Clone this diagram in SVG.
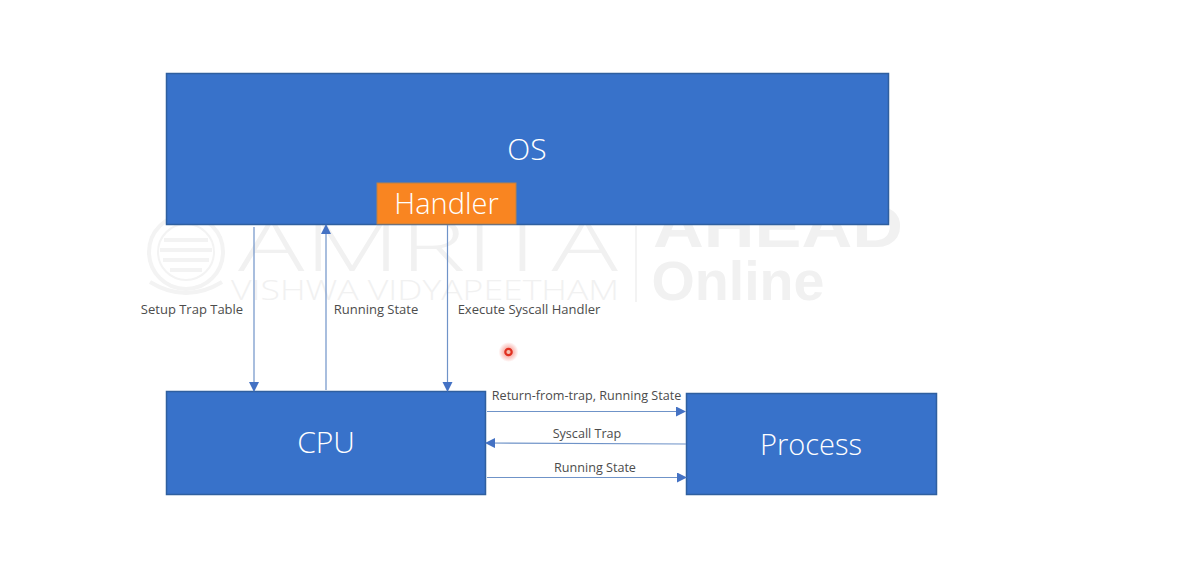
<svg xmlns="http://www.w3.org/2000/svg" width="1194" height="579" viewBox="0 0 1194 579">
<style>
.box{fill:#3872ca;stroke:#2f5f9f;stroke-width:1.5}
.big{font-family:"Open Sans","Noto Sans",sans-serif;font-weight:300;fill:#fff;text-anchor:middle}
.lab{font-family:"Open Sans","Noto Sans",sans-serif;font-size:12.600px;fill:#4c4c4c;text-anchor:middle}
.top{font-size:13px}
.con{stroke:#6f93c8;stroke-width:1.2;fill:none;marker-end:url(#arr)}
.wm{font-family:"Open Sans","Noto Sans",sans-serif;font-weight:300;fill:#f1f1f1;text-anchor:middle}
.wb{font-family:"Liberation Sans",sans-serif;font-weight:bold;fill:#f1f1f1;text-anchor:middle}
.seal{fill:none;stroke:#f3f3f3}
</style>
<defs>
<marker id="arr" markerUnits="userSpaceOnUse" markerWidth="11" markerHeight="11" refX="9" refY="5" orient="auto"><path d="M0,0L10,5L0,10Z" fill="#4472c4"/></marker>
<radialGradient id="glow"><stop offset="0" stop-color="#f04030" stop-opacity=".6"/><stop offset=".55" stop-color="#f04030" stop-opacity=".3"/><stop offset="1" stop-color="#f04030" stop-opacity="0"/></radialGradient>
</defs>
<rect width="1194" height="579" fill="#fff"/>
<g id="watermark">
<circle class="seal" cx="186" cy="252" r="37" stroke-width="4"/>
<circle class="seal" cx="186" cy="252" r="28" stroke-width="2"/>
<path class="seal" d="M164 240H208M160 250H212M163 260H209M170 270H202" stroke-width="4"/>
<path class="seal" d="M150 282Q186 304 222 282" stroke-width="4"/>
<text class="wm" x="428" y="271" font-size="72" textLength="380" lengthAdjust="spacingAndGlyphs">AMRITA</text>
<text class="wm" x="425" y="300" font-size="28" textLength="388" lengthAdjust="spacingAndGlyphs">VISHWA VIDYAPEETHAM</text>
<line x1="636" y1="226" x2="636" y2="302" stroke="#f3f3f3" stroke-width="2"/>
<text class="wb" x="778" y="247" font-size="60" textLength="250" lengthAdjust="spacingAndGlyphs">AHEAD</text>
<text class="wb" x="738" y="300" font-size="56" textLength="173" lengthAdjust="spacingAndGlyphs">Online</text>
</g>
<g id="os"><rect class="box" x="166.500" y="73.500" width="722" height="151"/><text class="big" x="527" y="160" font-size="30">OS</text></g>
<g id="handler"><rect x="377" y="183" width="139" height="41" fill="#f98521" stroke="#b8824a" stroke-width="1"/><text class="big" x="446.500" y="214" font-size="29">Handler</text></g>
<g id="cpu"><rect class="box" x="166.500" y="391.500" width="319" height="103"/><text class="big" x="326" y="453" font-size="30">CPU</text></g>
<g id="process"><rect class="box" x="686.500" y="393.500" width="250" height="101"/><text class="big" x="811" y="455" font-size="29">Process</text></g>
<g id="connectors">
<line class="con" x1="254" y1="227" x2="254" y2="391"/>
<line class="con" x1="326" y1="390" x2="326" y2="225"/>
<line class="con" x1="447.500" y1="225" x2="447.500" y2="391"/>
<line class="con" x1="487" y1="411.500" x2="685" y2="411.500"/>
<line class="con" x1="686" y1="444" x2="486" y2="443"/>
<line class="con" x1="487" y1="477.500" x2="686" y2="477.500"/>
</g>
<g id="labels">
<text class="lab top" x="192" y="314">Setup Trap Table</text>
<text class="lab top" x="376" y="314">Running State</text>
<text class="lab top" x="529" y="314">Execute Syscall Handler</text>
<text class="lab" x="586.500" y="400">Return-from-trap, Running State</text>
<text class="lab" x="587" y="438">Syscall Trap</text>
<text class="lab" x="595" y="472">Running State</text>
</g>
<g id="pointer"><circle cx="508.500" cy="352" r="10" fill="url(#glow)"/><circle cx="508.500" cy="352" r="3.200" fill="#f5c0b0" stroke="#e03020" stroke-width="2.200"/></g>
</svg>
